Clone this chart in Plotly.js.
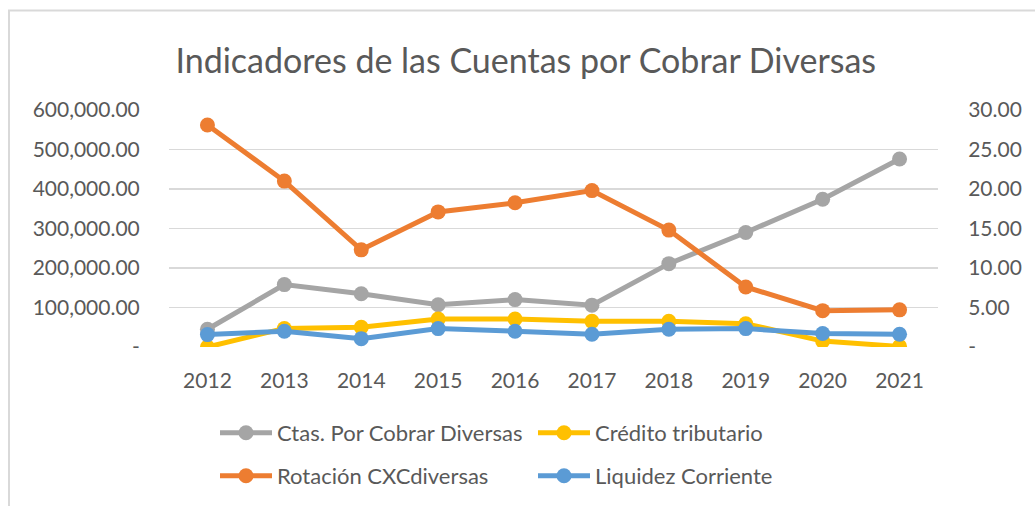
<!DOCTYPE html>
<html>
<head>
<meta charset="utf-8">
<script src="https://cdn.plot.ly/plotly-3.0.1.min.js"></script>
<style>html,body{margin:0;padding:0;background:#fff;}#chart{width:1035px;height:506px;}</style>
</head>
<body>
<div id="chart"></div>
<script>
// ---- data ----
const years = ['2012','2013','2014','2015','2016','2017','2018','2019','2020','2021'];
const ctasPorCobrar = [45000, 158000, 135000, 107000, 120000, 106000, 211000, 290000, 374000, 476000];
const creditoTributario = [0, 47000, 50000, 71000, 71000, 65000, 65000, 59000, 15000, 1500];
const rotacionCXC = [28.1, 21.0, 12.3, 17.1, 18.25, 19.8, 14.8, 7.6, 4.6, 4.7];
const liquidezCorriente = [1.57, 1.99, 1.06, 2.33, 1.99, 1.61, 2.24, 2.33, 1.70, 1.61];

const yLeftTickVals = [0, 100000, 200000, 300000, 400000, 500000, 600000];
const yLeftTickText = ['-', '100,000.00', '200,000.00', '300,000.00', '400,000.00', '500,000.00', '600,000.00'];
const yRightTickVals = [0, 5, 10, 15, 20, 25, 30];
const yRightTickText = ['-', '5.00', '10.00', '15.00', '20.00', '25.00', '30.00'];

const titleText = 'Indicadores de las Cuentas por Cobrar Diversas';

// ---- style ----
const FONT = 'Lato, "Open Sans", sans-serif';
const TXT = '#595959';
const GRID = '#D9D9D9';
const W = 1035, H = 506;
const M = {l: 169, r: 97, t: 110, b: 159, autoexpand: false};
const pw = W - M.l - M.r, ph = H - M.t - M.b;
const px = x => (x - M.l) / pw;
const py = y => (H - M.b - y) / ph;

function tr(name, y, color, yaxis, legend) {
  return {
    type: 'scatter', mode: 'lines+markers', name: name,
    x: years, y: y, yaxis: yaxis, legend: legend,
    line: {color: color, width: 5},
    marker: {color: color, size: 15},
    hoverinfo: 'x+y+name'
  };
}

const data = [
  tr('Ctas. Por Cobrar Diversas', ctasPorCobrar, '#A5A5A5', 'y', 'legend'),
  tr('Crédito tributario', creditoTributario, '#FFC000', 'y', 'legend'),
  tr('Rotación CXCdiversas', rotacionCXC, '#ED7D31', 'y2', 'legend2'),
  tr('Liquidez Corriente', liquidezCorriente, '#5B9BD5', 'y2', 'legend2')
];

const legendCommon = {
  orientation: 'h', xref: 'paper', yref: 'paper', xanchor: 'left', yanchor: 'middle',
  font: {family: FONT, size: 22, color: TXT}, itemwidth: 52,
  entrywidth: 251, entrywidthmode: 'pixels', bgcolor: 'rgba(0,0,0,0)', tracegroupgap: 0
};

const layout = {
  width: W, height: H, margin: M,
  paper_bgcolor: '#fff', plot_bgcolor: '#fff',
  font: {family: FONT, color: TXT},
  title: {text: titleText, font: {family: FONT, size: 34, color: TXT}, x: 0.508, xanchor: 'center', y: 0.88, yanchor: 'middle', xref: 'container', yref: 'container'},
  xaxis: {
    type: 'category', range: [-0.5, years.length - 0.5], autorange: false,
    showgrid: false, zeroline: false, showline: false,
    ticks: 'outside', ticklen: 15, tickcolor: 'rgba(0,0,0,0)',
    tickfont: {family: FONT, size: 21, color: TXT}
  },
  yaxis: {
    range: [0, 600000], tickvals: yLeftTickVals, ticktext: yLeftTickText,
    showgrid: true, gridcolor: GRID, gridwidth: 1.5, zeroline: false, showline: false,
    ticks: 'outside', ticklen: 24, tickcolor: 'rgba(0,0,0,0)',
    tickfont: {family: FONT, size: 21, color: TXT}
  },
  yaxis2: {
    range: [0, 30], tickvals: yRightTickVals, ticktext: yRightTickText,
    overlaying: 'y', side: 'right', showgrid: false, zeroline: false, showline: false,
    ticks: 'outside', ticklen: 25, tickcolor: 'rgba(0,0,0,0)',
    tickfont: {family: FONT, size: 21, color: TXT}
  },
  legend: Object.assign({}, legendCommon, {x: px(215), y: py(433)}),
  legend2: Object.assign({}, legendCommon, {x: px(215), y: py(476)}),
  shapes: [
    {type: 'line', xref: 'paper', yref: 'paper', x0: px(8), x1: px(1035), y0: py(10.5), y1: py(10.5), line: {color: GRID, width: 2}},
    {type: 'line', xref: 'paper', yref: 'paper', x0: px(9), x1: px(9), y0: py(10), y1: py(506), line: {color: GRID, width: 2}}
  ],
  showlegend: true
};

Plotly.newPlot('chart', data, layout, {displayModeBar: false, staticPlot: true});
</script>
</body>
</html>
